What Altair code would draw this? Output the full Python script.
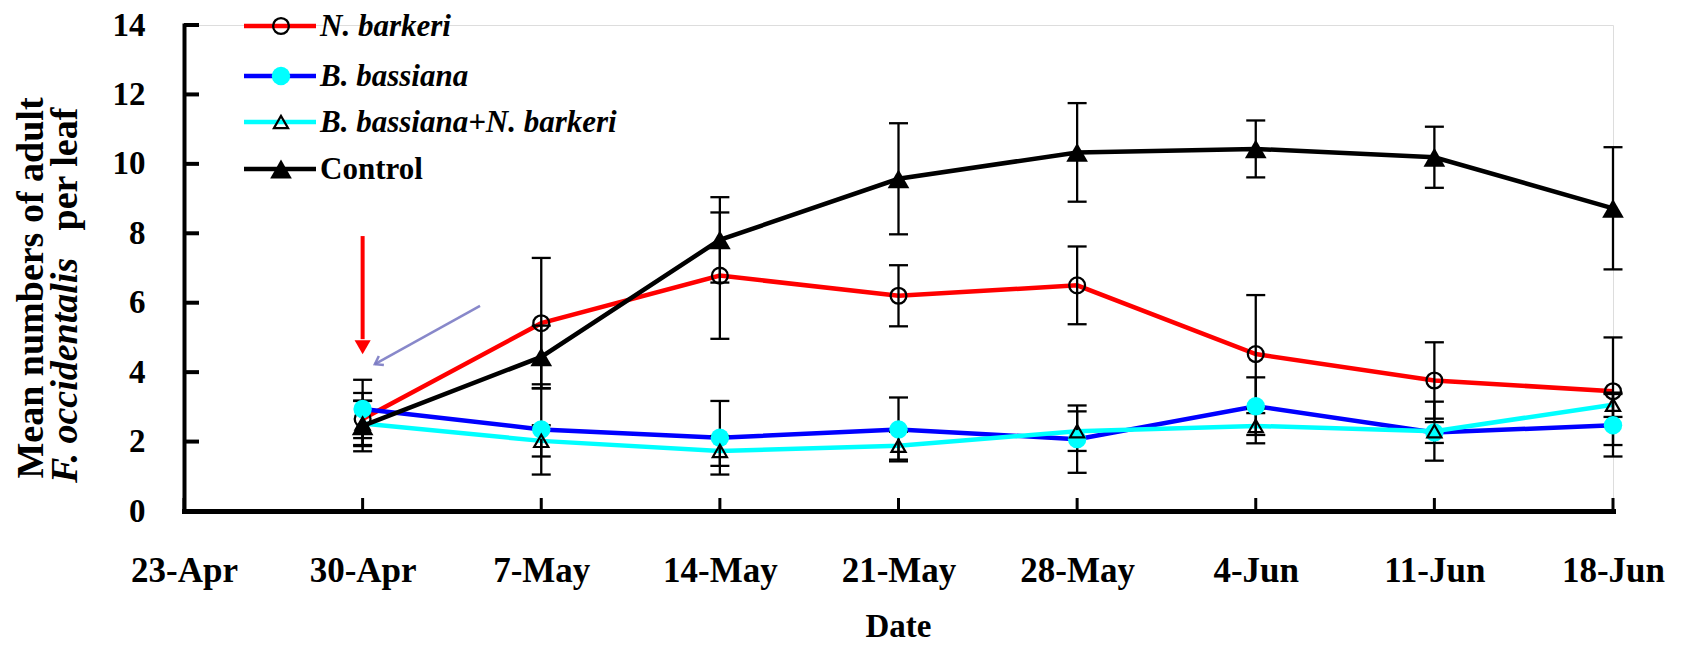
import altair as alt
import pandas as pd

# ---------------- data ----------------
series = ["N. barkeri", "B. bassiana", "B. bassiana+N. barkeri", "Control"]
line_colors = ["#FF0000", "#0000FF", "#00FFFF", "#000000"]

sample_days = [7, 14, 21, 28, 35, 42, 49, 56]
tick_days = [0, 7, 14, 21, 28, 35, 42, 49, 56]
tick_labels = ["23-Apr", "30-Apr", "7-May", "14-May", "21-May",
               "28-May", "4-Jun", "11-Jun", "18-Jun"]
y_ticks = [0, 2, 4, 6, 8, 10, 12, 14]

nb_mean = [2.65, 5.41, 6.78, 6.20, 6.50, 4.52, 3.76, 3.45]
nb_err = [0.75, 1.88, 1.82, 0.88, 1.12, 1.70, 1.10, 1.55]
bb_mean = [2.94, 2.35, 2.11, 2.35, 2.07, 3.02, 2.26, 2.47]
bb_err = [0.84, 1.30, 1.06, 0.92, 0.97, 0.83, 0.30, 0.90]
bn_mean = [2.52, 2.02, 1.73, 1.88, 2.30, 2.45, 2.30, 3.06]
bn_err = [0.65, 0.45, 0.43, 0.40, 0.57, 0.50, 0.85, 0.35]
ct_mean = [2.45, 4.44, 7.81, 9.57, 10.33, 10.43, 10.19, 8.72]
ct_err = [0.73, 0.90, 1.23, 1.60, 1.42, 0.82, 0.88, 1.76]

means = [nb_mean, bb_mean, bn_mean, ct_mean]
errs = [nb_err, bb_err, bn_err, ct_err]

# annotation arrows (data coordinates)
red_arrow_day = [7]
red_arrow_top = [7.92]
red_arrow_bottom = [4.95]
red_arrow_head = [4.72]
blue_arrow_start = [11.6, 5.91]
blue_arrow_end = [7.48, 4.23]

FONT = "Liberation Serif"
W, H = 1429, 486

rows = []
for s, m, e in zip(series, means, errs):
    for d, v, er in zip(sample_days, m, e):
        rows.append({"series": s, "day": d, "mean": v, "lo": v - er, "hi": v + er})
df = pd.DataFrame(rows)

xs = alt.Scale(domain=[0, 56], nice=False, zero=False)
ys = alt.Scale(domain=[0, 14], nice=False, zero=True)
label_expr = "[" + ",".join("'%s'" % t for t in tick_labels) + "][round(datum.value/7)]"
xa = alt.Axis(values=tick_days, labelExpr=label_expr, tickSize=0, domainWidth=5,
              domainColor="black", domainCap="square", labelFontSize=35,
              labelFontWeight="bold", labelFont=FONT, labelColor="black",
              labelPadding=42, grid=False, title=None, labelFlush=False,
              labelOverlap=False)
ya = alt.Axis(values=y_ticks, tickSize=0, domainWidth=4, domainColor="black",
              domainCap="square", labelFontSize=33, labelFontWeight="bold",
              labelFont=FONT, labelColor="black", labelPadding=39, grid=False,
              title=None, labelOverlap=False)


def X(f):
    return alt.X(f, type="quantitative", scale=xs, axis=xa)


def Y(f):
    return alt.Y(f, type="quantitative", scale=ys, axis=ya)


layers = []

# lines
for s, c in zip(series, line_colors):
    layers.append(
        alt.Chart(df[df.series == s]).mark_line(color=c, strokeWidth=4.5)
        .encode(x=X("day"), y=Y("mean"))
    )

# error bars
layers.append(
    alt.Chart(df).mark_rule(color="black", strokeWidth=2.3)
    .encode(x=X("day"), y=Y("lo"), y2=alt.Y2("hi"))
)
for f in ["lo", "hi"]:
    layers.append(
        alt.Chart(df).mark_rule(color="black", strokeWidth=2.3, xOffset=-9.5, x2Offset=9.5)
        .encode(x=X("day"), x2=alt.X2("day"), y=Y(f))
    )

# markers
marker_defs = [
    dict(shape="circle", filled=False, stroke="black", strokeWidth=2.3, size=250, opacity=1),
    dict(shape="circle", filled=True, color="#00FFFF", size=340, opacity=1),
    dict(shape="triangle-up", filled=False, stroke="black", strokeWidth=2.2, size=200, opacity=1),
    dict(shape="triangle-up", filled=True, color="black", size=470, opacity=1),
]
for s, md in zip(series, marker_defs):
    layers.append(
        alt.Chart(df[df.series == s]).mark_point(**md).encode(x=X("day"), y=Y("mean"))
    )

# manual inward ticks
ytick_df = pd.DataFrame({"v": y_ticks})
layers.append(
    alt.Chart(ytick_df).mark_rule(color="black", strokeWidth=4)
    .encode(y=Y("v"), x=alt.value(0), x2=alt.value(15))
)
xtick_df = pd.DataFrame({"d": tick_days})
layers.append(
    alt.Chart(xtick_df).mark_rule(color="black", strokeWidth=3)
    .encode(x=X("d"), y=alt.value(H), y2=alt.value(H - 13))
)

# arrows
red_df = pd.DataFrame({"d": red_arrow_day, "top": red_arrow_top,
                       "bot": red_arrow_bottom, "head": red_arrow_head})
layers.append(
    alt.Chart(red_df).mark_rule(color="#FF0000", strokeWidth=4)
    .encode(x=X("d"), y=Y("top"), y2=alt.Y2("bot"))
)
layers.append(
    alt.Chart(red_df).mark_point(shape="triangle-down", filled=True, color="#FF0000",
                                 size=260, opacity=1)
    .encode(x=X("d"), y=Y("head"))
)
blue_df = pd.DataFrame({"x1": [blue_arrow_start[0]], "y1": [blue_arrow_start[1]],
                        "x2": [blue_arrow_end[0]], "y2": [blue_arrow_end[1]]})
layers.append(
    alt.Chart(blue_df).mark_rule(color="#7B7BC4", strokeWidth=2.5, opacity=0.9)
    .encode(x=X("x1"), y=Y("y1"), x2=alt.X2("x2"), y2=alt.Y2("y2"))
)
layers.append(
    alt.Chart(blue_df).mark_point(shape="M -0.7 1 L 0 0 L 0.7 1", filled=False,
                                  stroke="#7B7BC4", strokeWidth=2.5, size=220,
                                  angle=241, opacity=0.9)
    .encode(x=X("x2"), y=Y("y2"))
)

# legend
dummy = pd.DataFrame({"k": [0]})
legend_rows = [1, 51, 97, 144]
legend_italic = [True, True, True, False]
for s, c, ry, it, md in zip(series, line_colors, legend_rows, legend_italic, marker_defs):
    layers.append(
        alt.Chart(dummy).mark_rule(color=c, strokeWidth=4.5)
        .encode(x=alt.value(60), x2=alt.value(132), y=alt.value(ry))
    )
    layers.append(
        alt.Chart(dummy).mark_point(**md).encode(x=alt.value(97), y=alt.value(ry))
    )
    layers.append(
        alt.Chart(dummy).mark_text(align="left", baseline="middle", font=FONT,
                                   fontSize=31, fontWeight="bold",
                                   fontStyle="italic" if it else "normal",
                                   color="black")
        .encode(x=alt.value(136), y=alt.value(ry + 1), text=alt.value(s))
    )

# axis titles
layers.append(
    alt.Chart(dummy).mark_text(angle=270, align="center", baseline="middle", font=FONT,
                               fontSize=38, fontWeight="bold", color="black")
    .encode(x=alt.value(-152), y=alt.value(263), text=alt.value("Mean numbers of adult"))
)
layers.append(
    alt.Chart(dummy).mark_text(angle=270, align="left", baseline="middle", font=FONT,
                               fontSize=38, fontWeight="bold", fontStyle="italic",
                               color="black")
    .encode(x=alt.value(-118), y=alt.value(458), text=alt.value("F. occidentalis"))
)
layers.append(
    alt.Chart(dummy).mark_text(angle=270, align="center", baseline="middle", font=FONT,
                               fontSize=38, fontWeight="bold", color="black")
    .encode(x=alt.value(-118), y=alt.value(144), text=alt.value("per leaf"))
)
layers.append(
    alt.Chart(dummy).mark_text(align="center", baseline="alphabetic", font=FONT,
                               fontSize=33, fontWeight="bold", color="black")
    .encode(x=alt.value(W / 2), y=alt.value(612), text=alt.value("Date"))
)

chart = alt.layer(*layers).properties(
    width=W, height=H,
    padding={"left": 176, "top": 17, "right": 60, "bottom": 136},
    autosize=alt.AutoSizeParams(type="none"),
).configure_view(stroke=None).configure(background="white")

chart.save("out.html", embed_options={"renderer": "svg", "actions": False})
